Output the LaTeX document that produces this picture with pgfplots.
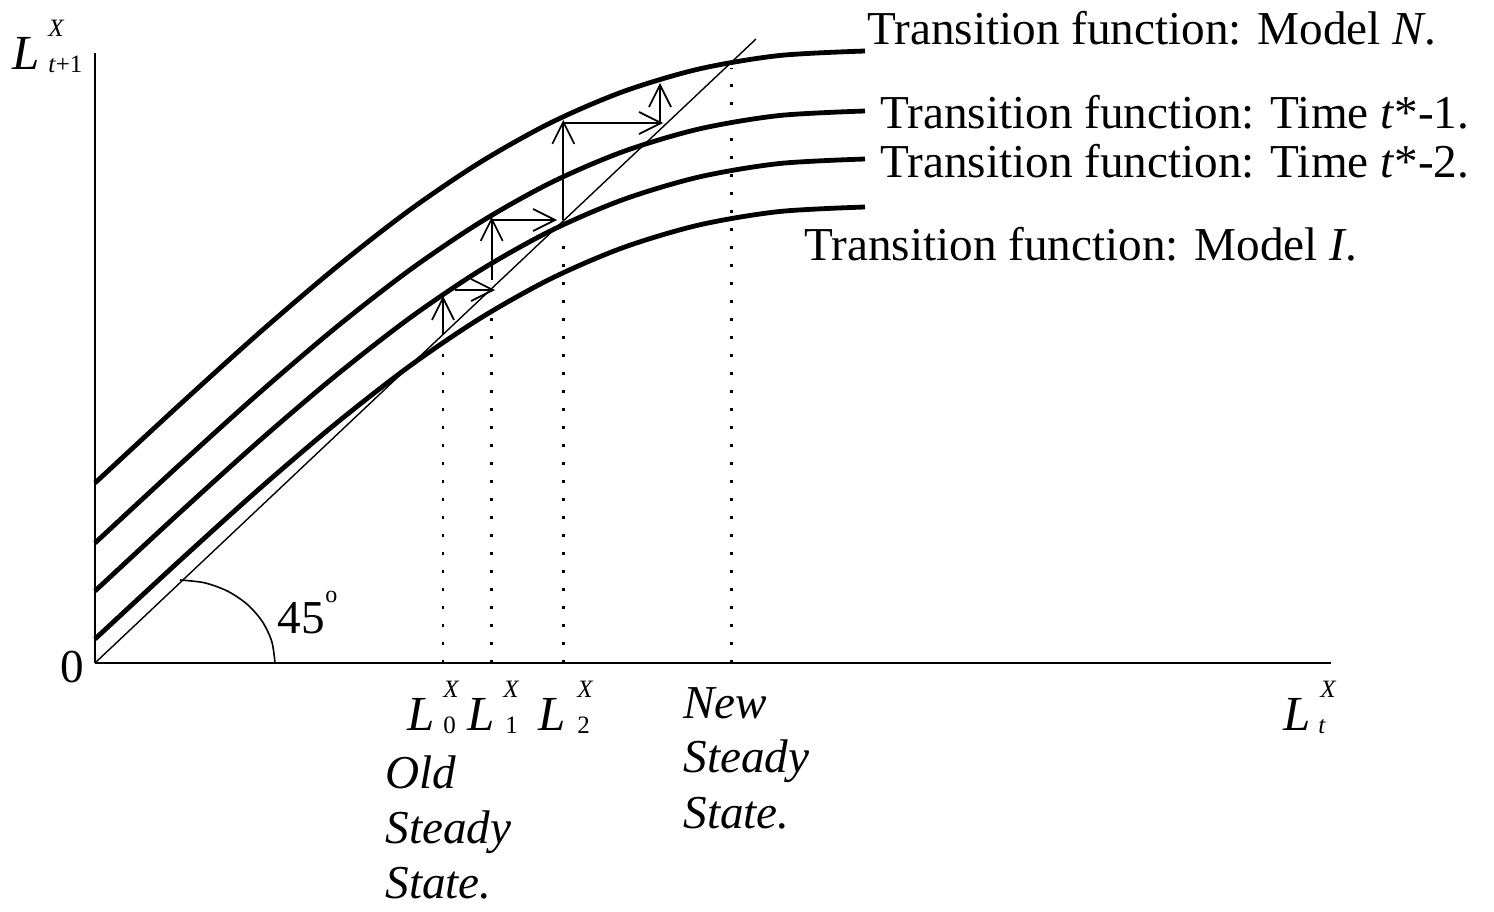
\documentclass[border=0pt]{standalone}
\usepackage{pgfplots}
\pgfplotsset{compat=1.18}
\usepackage{pgfplotstable}
\usepackage{fontspec}
\setmainfont{Liberation Serif}
\usetikzlibrary{arrows.meta}

\pgfplotstableread{
x      I      t2     t1     N
0      24     72     120    180
86.4   103.9  151.9  199.9  259.9
166.5  176.1  224.1  272.1  332.1
241.9  240.3  288.3  336.3  396.3
314.2  296.6  344.6  392.6  452.6
385.0  344.6  392.6  440.6  500.6
455.8  384.3  432.3  480.3  540.3
528.1  415.4  463.4  511.4  571.4
603.5  437.9  485.9  533.9  593.9
683.6  451.4  499.4  547.4  607.4
770    456    504    552    612
}\curves

\newcommand\bigf{\fontsize{23.6}{27}\selectfont}
\newcommand\Lf{\fontsize{24.5}{28}\selectfont}
\newcommand\smf{\fontsize{12.5}{14}\selectfont}

\begin{document}
\begin{tikzpicture}
\begin{axis}[
  x=0.5pt, y=0.5pt,
  xmin=0, xmax=1236, ymin=0, ymax=610,
  axis lines=left,
  axis line style={-, line width=1pt},
  ticks=none,
  clip=false,
  enlargelimits=false,
]
% transition functions
\addplot[line width=2.4pt, smooth, no markers] table[x=x,y=I]{\curves};
\addplot[line width=2.4pt, smooth, no markers] table[x=x,y=t2]{\curves};
\addplot[line width=2.4pt, smooth, no markers] table[x=x,y=t1]{\curves};
\addplot[line width=2.4pt, smooth, no markers] table[x=x,y=N]{\curves};
% 45 degree line
\addplot[line width=0.7pt, no markers] coordinates {(0,0) (661,624)};
% angle arc
\addplot[line width=0.8pt, smooth, no markers] coordinates {
(85,83) (109.6,80.2) (132.5,71.9) (152.2,58.7) (167.3,41.5) (176.8,21.5) (180,0)};
% dotted verticals
\pgfplotsset{dots/.style={line width=1.3pt, dash pattern=on 1.3pt off 7.7pt, no markers}}
\addplot[dots] coordinates {(348,0) (348,322)};
\addplot[dots] coordinates {(396.7,0) (396.7,351)};
\addplot[dots] coordinates {(468.3,0) (468.3,425)};
\addplot[dots] coordinates {(636.7,0) (636.7,595)};
% cobweb arrows
\pgfplotsset{cob/.style={line width=0.85pt, no markers, -{Straight Barb[length=11pt,width=11pt,line width=0.85pt]}}}
\addplot[cob] coordinates {(348,328) (348,367)};
\addplot[cob] coordinates {(360,373) (400,373)};
\addplot[cob] coordinates {(396.7,383) (396.7,446)};
\addplot[cob] coordinates {(396.7,443) (462,443)};
\addplot[cob] coordinates {(468.3,443) (468.3,543)};
\addplot[cob] coordinates {(468.3,540) (568,540)};
\addplot[cob] coordinates {(565,541) (565,580)};
% curve labels
\node[anchor=base west, font=\bigf, inner sep=0pt] at (axis cs:772,618) {Transition function: Model \textit{N}.};
\node[anchor=base west, font=\bigf, inner sep=0pt] at (axis cs:785,535) {Transition function: Time \textit{t}*-1.};
\node[anchor=base west, font=\bigf, inner sep=0pt] at (axis cs:785,486) {Transition function: Time \textit{t}*-2.};
\node[anchor=base west, font=\bigf, inner sep=0pt] at (axis cs:709,403) {Transition function: Model \textit{I}.};
% y axis label
\node[anchor=base west, font=\Lf\itshape, inner sep=0pt] at (axis cs:-83,593) {L};
\node[anchor=base west, font=\smf\itshape, inner sep=0pt] at (axis cs:-47,626) {X};
\node[anchor=base west, font=\smf, inner sep=0pt] at (axis cs:-47,590) {\textit{t}+1};
% origin
\node[anchor=base, font=\bigf, inner sep=0pt] at (axis cs:-23,-19) {0};
% 45 deg
\node[anchor=base west, font=\bigf, inner sep=0pt] at (axis cs:182,30) {45};
\node[anchor=base west, font=\fontsize{12}{12}\selectfont, inner sep=0pt] at (axis cs:230,61) {o};
% L0 L1 L2
\node[anchor=base west, font=\Lf\itshape, inner sep=0pt] at (axis cs:312,-67) {L};
\node[anchor=base west, font=\smf\itshape, inner sep=0pt] at (axis cs:348,-34) {X};
\node[anchor=base west, font=\smf, inner sep=0pt] at (axis cs:348,-70) {0};
\node[anchor=base west, font=\Lf\itshape, inner sep=0pt] at (axis cs:372,-67) {L};
\node[anchor=base west, font=\smf\itshape, inner sep=0pt] at (axis cs:408,-34) {X};
\node[anchor=base west, font=\smf, inner sep=0pt] at (axis cs:410,-70) {1};
\node[anchor=base west, font=\Lf\itshape, inner sep=0pt] at (axis cs:443,-67) {L};
\node[anchor=base west, font=\smf\itshape, inner sep=0pt] at (axis cs:482,-34) {X};
\node[anchor=base west, font=\smf, inner sep=0pt] at (axis cs:482,-70) {2};
% steady state texts
\node[anchor=base west, font=\bigf\itshape, inner sep=0pt] at (axis cs:290,-125) {Old};
\node[anchor=base west, font=\bigf\itshape, inner sep=0pt] at (axis cs:290,-180) {Steady};
\node[anchor=base west, font=\bigf\itshape, inner sep=0pt] at (axis cs:290,-235) {State.};
\node[anchor=base west, font=\bigf\itshape, inner sep=0pt] at (axis cs:588,-55) {New};
\node[anchor=base west, font=\bigf\itshape, inner sep=0pt] at (axis cs:588,-109) {Steady};
\node[anchor=base west, font=\bigf\itshape, inner sep=0pt] at (axis cs:588,-165) {State.};
% x axis label
\node[anchor=base west, font=\Lf\itshape, inner sep=0pt] at (axis cs:1188,-67) {L};
\node[anchor=base west, font=\smf\itshape, inner sep=0pt] at (axis cs:1225,-34) {X};
\node[anchor=base west, font=\smf\itshape, inner sep=0pt] at (axis cs:1223,-70) {t};
\coordinate (bbll) at (axis cs:-95,-248);
\coordinate (bbur) at (axis cs:1399,663);
\end{axis}
\pgfresetboundingbox
\useasboundingbox (bbll) rectangle (bbur);
\end{tikzpicture}
\end{document}
